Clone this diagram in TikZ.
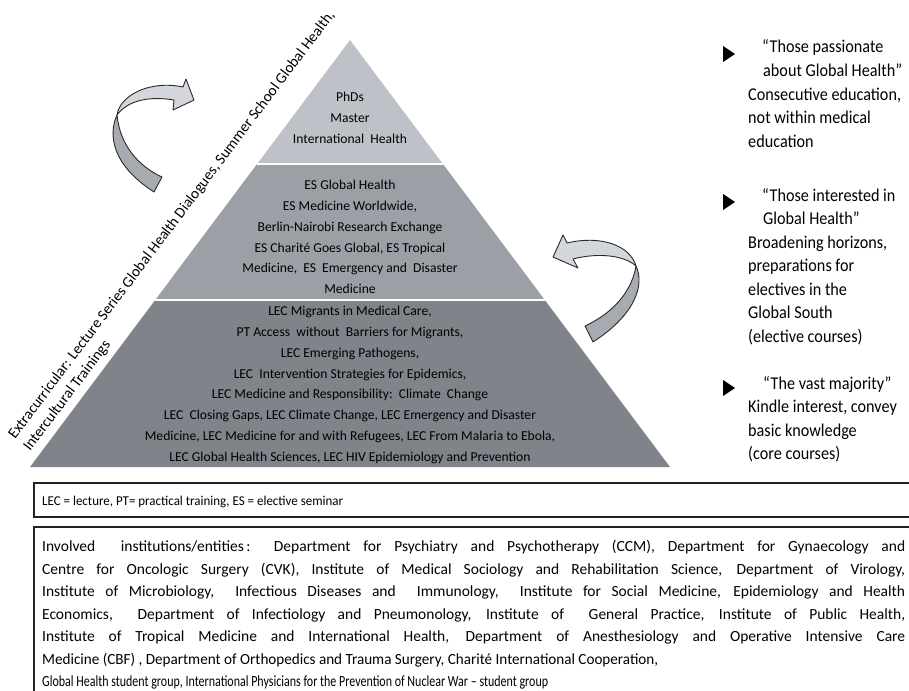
\documentclass[tikz,border=0pt]{standalone}
\usepackage{fontspec}
\setmainfont{Carlito}
\newfontfamily\condfont[FakeStretch=0.85]{Carlito}
\newfontfamily\sidefont[FakeStretch=0.9]{Carlito}
\usepackage{graphicx}
\definecolor{laytop}{HTML}{BEC2C8}
\definecolor{laymid}{HTML}{9BA0A6}
\definecolor{laybot}{HTML}{7F848A}
\definecolor{arrlight}{HTML}{D3D6DA}
\definecolor{arrdark}{HTML}{A7ABB1}
\definecolor{arrline}{HTML}{2A2A2A}
\definecolor{boxline}{HTML}{222222}
\begin{document}
\begin{tikzpicture}[x=1pt,y=-1pt,
  pyrtext/.style={font=\fontsize{13.6}{20.8}\selectfont, align=center, inner sep=0pt, text=black},
  sidetext/.style={font=\sidefont\fontsize{18}{20}\selectfont, anchor=base west, inner sep=0pt},
  extratext/.style={font=\fontsize{15.2}{16}\selectfont, anchor=base west, inner sep=0pt, rotate=53},
  boxtext/.style={font=\fontsize{15.5}{18}\selectfont, anchor=base west, inner sep=0pt},
  legtext/.style={font=\condfont\fontsize{13.5}{14}\selectfont, anchor=base west, inner sep=0pt},
  marker/.style={fill=black},
  arrlightpart/.style={fill=arrlight, draw=arrline, line width=0.9pt, line join=round},
  arrdarkpart/.style={fill=arrdark, draw=arrline, line width=0.9pt, line join=round},
  frame/.style={draw=boxline, line width=1.8pt},
  divider/.style={draw=white, line width=2pt}]
\useasboundingbox (0,0) rectangle (909,690);
\clip (0,0) rectangle (909,690);

% pyramid layers
\fill[laytop] (350,40) -- (442.9,164) -- (257.1,164) -- cycle;
\fill[laymid] (257.1,164) -- (442.9,164) -- (544.8,300) -- (155.2,300) -- cycle;
\fill[laybot] (155.2,300) -- (544.8,300) -- (670,467) -- (30,467) -- cycle;
\draw[divider] (257.1,164) -- (442.9,164);
\draw[divider] (155.2,300) -- (544.8,300);

\node[pyrtext] (phd) at (350,118) {PhDs\\Master\\International\ \ Health};
\node[pyrtext] (es) at (350,237) {ES Global Health\\ES Medicine Worldwide,\\Berlin-Nairobi Research Exchange\\ES Charité Goes Global, ES Tropical\\Medicine,\ \ ES\ \ Emergency and\ \ Disaster\\Medicine};
\node[pyrtext] (lec) at (350,385) {LEC Migrants in Medical Care,\\PT Access\ \ without\ \ Barriers for Migrants,\\LEC Emerging Pathogens,\\LEC\ \ Intervention Strategies for Epidemics,\\LEC Medicine and Responsibility:\ \ Climate\ \ Change\\LEC\ \ Closing Gaps, LEC Climate Change, LEC Emergency and Disaster\\Medicine, LEC Medicine for and with Refugees, LEC From Malaria to Ebola,\\LEC Global Health Sciences, LEC HIV Epidemiology and Prevention};

% extracurricular text
\node[extratext] (extra1) at (15,440) {Extracurricular: Lecture Series Global Health Dialogues, Summer School Global Health,};
\node[extratext] (extra2) at (30,452) {Intercultural Trainings};

% left curved arrow
\filldraw[arrdarkpart] (117,115) .. controls (108,135) and (112,165) .. (154,192)
  -- (162,177) .. controls (138,166) and (120,145) .. (117,115) -- cycle;
\filldraw[arrlightpart] (117,115) .. controls (120,95) and (150,80) .. (183,87)
  -- (186,79) -- (194,100) -- (173,110) -- (174,100)
  .. controls (150,96) and (128,100) .. (117,115) -- cycle;

% right curved arrow
\filldraw[arrlightpart] (636,266) .. controls (630,245) and (600,235) .. (567,243)
  -- (563,235) -- (553,257) -- (578,268) -- (573,259)
  .. controls (600,252) and (625,256) .. (636,266) -- cycle;
\filldraw[arrdarkpart] (636,266) .. controls (645,285) and (635,315) .. (593,342)
  -- (585,326) .. controls (615,312) and (632,290) .. (636,266) -- cycle;

% right column
\fill[marker] (723,46) -- (735,54) -- (723,62) -- cycle;
\node[sidetext] (p1) at (762,53) {“Those passionate};
\node[sidetext] (p2) at (763,76.5) {about Global Health”};
\node[sidetext] (p3) at (748,100) {Consecutive education,};
\node[sidetext] (p4) at (748,123.5) {not within medical};
\node[sidetext] (p5) at (748,147) {education};

\fill[marker] (723,194) -- (735,202) -- (723,210) -- cycle;
\node[sidetext] (i1) at (762,201) {“Those interested in};
\node[sidetext] (i2) at (763,224.5) {Global Health”};
\node[sidetext] (i3) at (748,248) {Broadening horizons,};
\node[sidetext] (i4) at (748,271.5) {preparations for};
\node[sidetext] (i5) at (748,295) {electives in the};
\node[sidetext] (i6) at (748,318.5) {Global South};
\node[sidetext] (i7) at (748,342) {(elective courses)};

\fill[marker] (723,380) -- (735,388) -- (723,396) -- cycle;
\node[sidetext] (v1) at (763,389) {“The vast majority”};
\node[sidetext] (v2) at (748,412.5) {Kindle interest, convey};
\node[sidetext] (v3) at (748,436) {basic knowledge};
\node[sidetext] (v4) at (748,459.5) {(core courses)};

% legend box
\draw[frame] (34,483) rectangle (930,517);
\node[legtext] (leg) at (42,505) {\resizebox{301pt}{\height}{LEC = lecture, PT= practical training, ES = elective seminar}};

% institutions box
\draw[frame] (34,527) rectangle (930,720);
\node[boxtext] (inv1) at (42,551.5) {\makebox[863pt][s]{Involved\ \ institutions/entities\,: Department for Psychiatry and Psychotherapy (CCM), Department for Gynaecology and}};
\node[boxtext] (inv2) at (42,574) {\makebox[863pt][s]{Centre for Oncologic Surgery (CVK), Institute of Medical Sociology and Rehabilitation Science, Department of Virology,}};
\node[boxtext] (inv3) at (42,596.5) {\makebox[863pt][s]{Institute of Microbiology,\ \ Infectious Diseases and\ \ Immunology,\ \ Institute for Social Medicine, Epidemiology and Health}};
\node[boxtext] (inv4) at (42,619) {\makebox[863pt][s]{Economics,\ \ Department of Infectiology and Pneumonology, Institute of\ \ General Practice, Institute of Public Health,}};
\node[boxtext] (inv5) at (42,641.5) {\makebox[863pt][s]{Institute of Tropical Medicine and International Health, Department of Anesthesiology and Operative Intensive Care}};
\node[boxtext] (inv6) at (42,664) {\resizebox{616pt}{\height}{Medicine (CBF) , Department of Orthopedics and Trauma Surgery, Charité International Cooperation,}};
\node[boxtext] (inv7) at (42,686) {\resizebox{506pt}{\height}{Global Health student group, International Physicians for the Prevention of Nuclear War – student group}};
\end{tikzpicture}
\end{document}
